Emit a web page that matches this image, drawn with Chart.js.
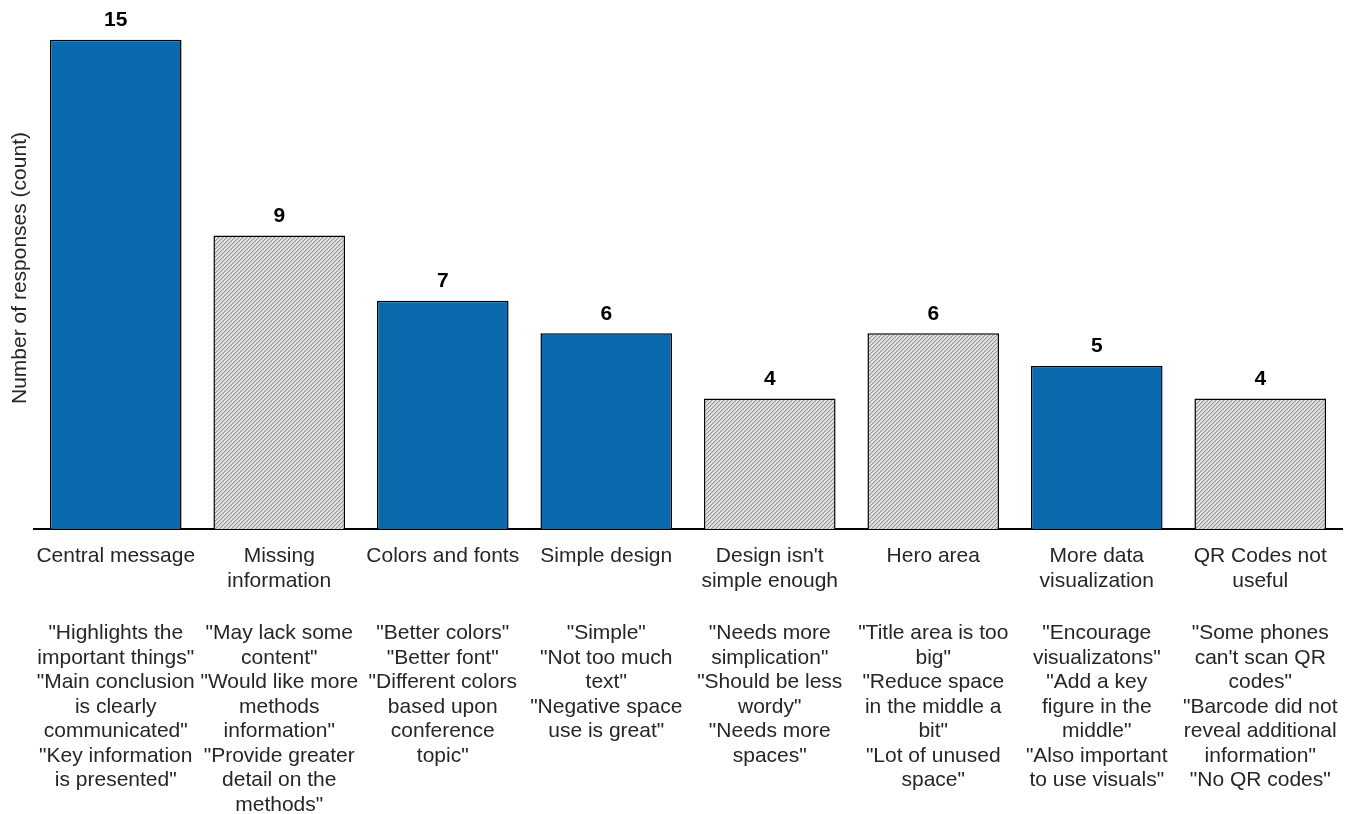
<!DOCTYPE html>
<html>
<head>
<meta charset="utf-8">
<script src="https://cdn.jsdelivr.net/npm/chart.js@4/dist/chart.umd.min.js"></script>
<style>
  body { margin: 0; background: #fff; }
</style>
</head>
<body>
<canvas id="chart" width="1354" height="814"></canvas>
<script>
const categories = [
    ["Central message", ""],
    ["Missing", "information"],
    ["Colors and fonts", ""],
    ["Simple design", ""],
    ["Design isn't", "simple enough"],
    ["Hero area", ""],
    ["More data", "visualization"],
    ["QR Codes not", "useful"]
]
const comments = [
    ["\"Highlights the", "important things\"", "\"Main conclusion", "is clearly", "communicated\"", "\"Key information", "is presented\""],
    ["\"May lack some", "content\"", "\"Would like more", "methods", "information\"", "\"Provide greater", "detail on the", "methods\""],
    ["\"Better colors\"", "\"Better font\"", "\"Different colors", "based upon", "conference", "topic\""],
    ["\"Simple\"", "\"Not too much", "text\"", "\"Negative space", "use is great\""],
    ["\"Needs more", "simplication\"", "\"Should be less", "wordy\"", "\"Needs more", "spaces\""],
    ["\"Title area is too", "big\"", "\"Reduce space", "in the middle a", "bit\"", "\"Lot of unused", "space\""],
    ["\"Encourage", "visualizatons\"", "\"Add a key", "figure in the", "middle\"", "\"Also important", "to use visuals\""],
    ["\"Some phones", "can't scan QR", "codes\"", "\"Barcode did not", "reveal additional", "information\"", "\"No QR codes\""]
]
const counts = [15, 9, 7, 6, 4, 6, 5, 4]
const hatched = [false, true, false, false, true, true, false, true]

// diagonal hatch for the gray bars
let pc = document.createElement('canvas')
pc.width = 4
pc.height = 4
let pctx = pc.getContext('2d')
pctx.fillStyle = '#e2e2e2'
pctx.fillRect(0, 0, 4, 4)
pctx.fillStyle = '#999'
for (let k = 0; k < 4; k++) pctx.fillRect(3 - k, k, 1, 1)
pctx.fillStyle = '#c2c2c2'
for (let k = 0; k < 4; k++) pctx.fillRect((4 - k) % 4, k, 1, 1)
let ctx = document.querySelector('#chart').getContext('2d')
let hatch = ctx.createPattern(pc, 'repeat')

let blue = '#0b6aad'
let font = "'Liberation Sans', Arial, sans-serif"
let tickFont = { family: font, size: 21, lineHeight: 1.167 }

let valueLabels = {
    id: 'valueLabels',
    afterDatasetsDraw(chart) {
        let c = chart.ctx
        let meta = chart.getDatasetMeta(0)
        c.save()
        c.font = "bold 21px " + font
        c.fillStyle = '#000'
        c.textAlign = 'center'
        c.textBaseline = 'bottom'
        meta.data.forEach((bar, i) => {
            c.fillText(counts[i], bar.x, bar.y - 9)
        })
        c.restore()
    }
}

let chart = new Chart(ctx, {
    type: 'bar',
    data: {
        labels: categories,
        datasets: [{
            data: counts,
            xAxisID: 'x',
            backgroundColor: hatched.map(h => h ? hatch : blue),
            borderColor: '#000',
            borderWidth: 1.5,
            barPercentage: 0.805,
            categoryPercentage: 1
        }]
    },
    options: {
        responsive: false,
        animation: false,
        layout: { padding: { top: 7, right: 12, left: 0, bottom: 0 } },
        plugins: {
            legend: { display: false },
            tooltip: { enabled: false }
        },
        scales: {
            x: {
                weight: 0,
                grid: { display: true, drawOnChartArea: false, drawTicks: false, color: 'transparent' },
                border: { display: true, color: '#000', width: 2 },
                ticks: {
                    autoSkip: false,
                    maxRotation: 0,
                    minRotation: 0,
                    padding: 15,
                    color: '#262626',
                    font: tickFont
                },
                afterFit(scale) {
                    scale.height = 64
                    scale.paddingLeft = 0
                    scale.paddingRight = 0
                }
            },
            x2: {
                type: 'category',
                position: 'bottom',
                weight: 1,
                offset: true,
                labels: comments,
                grid: { display: false },
                border: { display: false },
                ticks: {
                    autoSkip: false,
                    maxRotation: 0,
                    minRotation: 0,
                    padding: 20,
                    color: '#262626',
                    font: tickFont
                },
                afterFit(scale) {
                    scale.height = 221
                    scale.paddingLeft = 0
                    scale.paddingRight = 0
                }
            },
            y: {
                min: 0,
                max: 16,
                grid: { display: false },
                border: { display: false },
                ticks: { display: false },
                title: {
                    display: true,
                    text: 'Number of responses (count)',
                    color: '#262626',
                    font: { family: font, size: 21 },
                    padding: { top: 8, bottom: 0 }
                },
                afterFit(scale) { scale.width = 34 }
            }
        }
    },
    plugins: [valueLabels]
})
</script>
</body>
</html>
